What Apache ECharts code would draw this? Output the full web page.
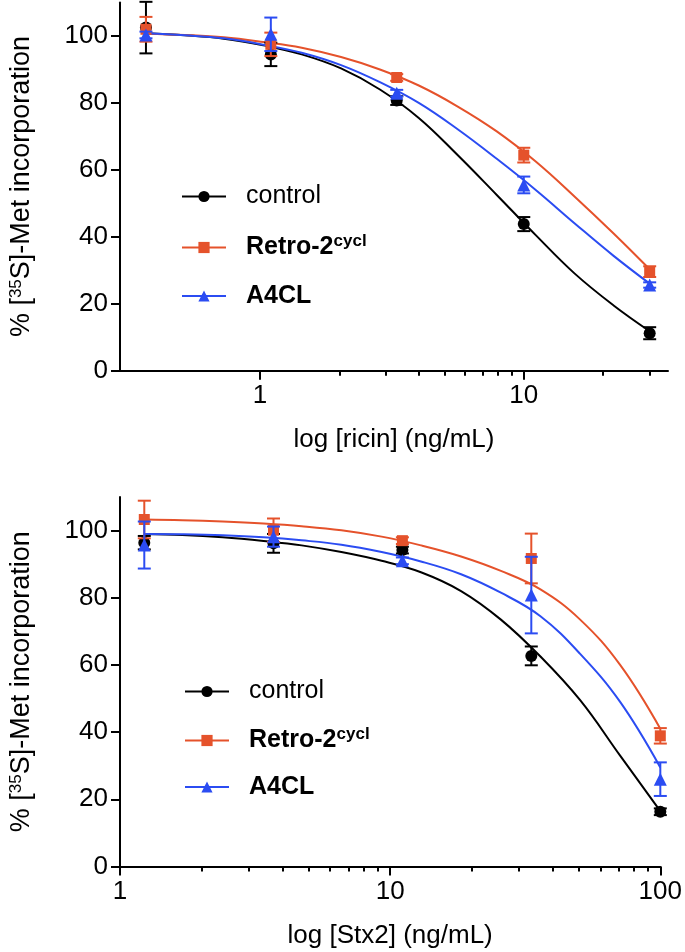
<!DOCTYPE html>
<html><head><meta charset="utf-8">
<script src="https://cdn.jsdelivr.net/npm/echarts@6/dist/echarts.min.js"></script>
<style>html,body{margin:0;padding:0;background:#fff}#c{width:685px;height:952px}</style>
</head><body><div id="c"></div>
<script>
// ---------- Top panel: ricin ----------
const ricinConc = [0.37, 1.1, 3.3, 10, 30];
const ricinControl = [102.5, 94.5, 80.7, 43.8, 11.2];
const ricinControlErr = [7.7, 3.5, 1.3, 2.1, 1.8];
const ricinRetro = [102, 97.5, 87.6, 64.4, 29.6];
const ricinRetroErr = [3.7, 3.5, 1.0, 2.2, 1.6];
const ricinA4CL = [100.3, 100.5, 82.9, 55.5, 25.6];
const ricinA4CLErr = [1.0, 5.0, 1.0, 2.5, 0.8];
// fitted curves
const ricinCurveConc = [0.37, 0.52, 0.73, 1.03, 1.44, 2.03, 2.85, 4.0, 5.6, 7.9, 11.1, 15.6, 21.9, 30];
const ricinControlCurve = [100.8, 100.2, 99.2, 97.2, 94.5, 90.3, 84, 75.5, 64.5, 52.5, 40.5, 29, 19.5, 11.8];
const ricinRetroCurve = [100.7, 100.3, 99.6, 98.2, 96.5, 93.7, 90, 85.2, 79, 71.5, 62.5, 52, 41, 30.3];
const ricinA4CLCurve = [100.8, 100.2, 99.3, 97.4, 95, 91.3, 86.2, 80, 72.2, 63.3, 54, 44, 34.3, 26];
const ricinExtent = [0.295, 35.2];
const ricinMajorTicks = [1, 10];
const ricinTickLabels = ['1', '10'];
const ricinMinorTicks = [2, 3, 4, 5, 6, 7, 8, 9, 20, 30];

// ---------- Bottom panel: Stx2 ----------
const stxConc = [1.23, 3.7, 11.1, 33.3, 100];
const stxControl = [96.4, 96.2, 94.2, 62.7, 16.3];
const stxControlErr = [2.0, 2.8, 1.0, 2.8, 1.0];
const stxRetro = [103.3, 100.1, 97.0, 91.7, 38.9];
const stxRetroErr = [5.6, 3.5, 1.0, 7.4, 2.3];
const stxA4CL = [95.7, 98.2, 91.0, 80.8, 26.0];
const stxA4CLErr = [7.0, 3.0, 1.0, 11.4, 5.0];
const stxCurveConc = [1.23, 1.7, 2.4, 3.4, 4.7, 6.6, 9.3, 13, 18.3, 25.7, 36, 50.5, 71, 100];
const stxControlCurve = [99, 98.7, 98, 96.9, 95.6, 93.6, 91, 87.6, 82, 73.5, 62.5, 49.5, 33, 16.5];
const stxRetroCurve = [103.3, 103.1, 102.7, 102.1, 101.3, 100.1, 98.2, 95.6, 92.3, 88, 82.5, 73.5, 60, 41];
const stxA4CLCurve = [99, 98.9, 98.6, 98, 97.1, 95.8, 93.6, 90.8, 87, 81.5, 74.5, 63.3, 49, 29.5];
const stxExtent = [1, 100];
const stxMajorTicks = [1, 10, 100];
const stxTickLabels = ['1', '10', '100'];
const stxMinorTicks = [2, 3, 4, 5, 6, 7, 8, 9, 20, 30, 40, 50, 60, 70, 80, 90];

const yTicks = [0, 20, 40, 60, 80, 100];
const seriesNames = ['control', 'Retro-2cycl', 'A4CL'];
const colors = ['#000000', '#E5522B', '#2B4CF2'];
const symbols = ['circle', 'rect', 'triangle'];
const symbolSizes = [12, 11, 13];

const F = '"Liberation Sans", Arial, Helvetica, sans-serif';
const L = v => Math.log10(v);

function errRender(color) {
  return function (params, api) {
    const x = api.value(0), lo = api.value(1), hi = api.value(2);
    const pHi = api.coord([x, hi]);
    const pLo = api.coord([x, lo]);
    const w = 6.5;
    const style = { stroke: color, lineWidth: 2, fill: null };
    return { type: 'group', children: [
      { type: 'line', shape: { x1: pHi[0], y1: pHi[1], x2: pLo[0], y2: pLo[1] }, style },
      { type: 'line', shape: { x1: pHi[0] - w, y1: pHi[1], x2: pHi[0] + w, y2: pHi[1] }, style },
      { type: 'line', shape: { x1: pLo[0] - w, y1: pLo[1], x2: pLo[0] + w, y2: pLo[1] }, style }
    ]};
  };
}

function panelSeries(idx, conc, means, errs, curveConc, curves) {
  const out = [];
  for (let s = 0; s < 3; s++) {
    out.push({
      name: seriesNames[s], type: 'line', xAxisIndex: idx * 2, yAxisIndex: idx,
      data: curveConc.map((c, i) => [L(c), curves[s][i]]),
      smooth: 0.4, showSymbol: false, symbol: symbols[s], symbolSize: symbolSizes[s],
      lineStyle: { color: colors[s], width: 2 }, itemStyle: { color: colors[s] },
      silent: true, z: 2
    });
  }
  for (let s = 0; s < 3; s++) {
    out.push({
      name: 'err-' + s, type: 'custom', xAxisIndex: idx * 2, yAxisIndex: idx,
      renderItem: errRender(colors[s]),
      data: conc.map((c, i) => [L(c), means[s][i] - errs[s][i], means[s][i] + errs[s][i]]),
      encode: { x: 0, y: [1, 2] }, clip: false, silent: true, z: 3 + s
    });
  }
  for (let s = 0; s < 3; s++) {
    out.push({
      name: 'pts-' + s, type: 'scatter', xAxisIndex: idx * 2, yAxisIndex: idx,
      data: conc.map((c, i) => [L(c), means[s][i]]),
      symbol: symbols[s], symbolSize: symbolSizes[s],
      itemStyle: { color: colors[s], opacity: 1 }, silent: true, z: 3 + s
    });
  }
  return out;
}

function xAxes(gridIndex, extent, major, labels, minor, title) {
  return [
    {
      type: 'value', gridIndex, position: 'bottom', min: L(extent[0]), max: L(extent[1]),
      axisLine: { show: true, onZero: false, lineStyle: { color: '#000', width: 2 } },
      axisTick: { show: true, customValues: major.map(L), length: 9, lineStyle: { color: '#000', width: 2 } },
      axisLabel: { show: true, customValues: major.map(L), margin: 12, color: '#000', fontSize: 26, fontFamily: F,
        formatter: v => { let k = 0, d = Infinity; major.forEach((m, i) => { const dd = Math.abs(L(m) - v); if (dd < d) { d = dd; k = i; } }); return labels[k]; } },
      splitLine: { show: false },
      name: title, nameLocation: 'middle', nameGap: 56,
      nameTextStyle: { color: '#000', fontSize: 26, fontFamily: F }
    },
    {
      type: 'value', gridIndex, position: 'bottom', min: L(extent[0]), max: L(extent[1]),
      axisLine: { show: false, onZero: false },
      axisTick: { show: true, customValues: minor.map(L), length: 5, lineStyle: { color: '#000', width: 2 } },
      axisLabel: { show: false }, splitLine: { show: false }
    }
  ];
}

function yAxis(gridIndex) {
  return {
    type: 'value', gridIndex, min: 0, max: 110,
    axisLine: { show: true, onZero: false, lineStyle: { color: '#000', width: 2 } },
    axisTick: { show: true, customValues: yTicks, length: 9, lineStyle: { color: '#000', width: 2 } },
    axisLabel: { show: true, customValues: yTicks, margin: 12, color: '#000', fontSize: 26, fontFamily: F },
    splitLine: { show: false },
    name: '% [{sup|35}S]-Met incorporation', nameLocation: 'middle', nameRotate: 90, nameGap: 85,
    nameTextStyle: { color: '#000', fontSize: 27, fontFamily: F,
      rich: { sup: { fontSize: 17, color: '#000', fontFamily: F, verticalAlign: 'top', lineHeight: 17 } } }
  };
}

const legendRich = {
  n: { fontSize: 25, fontFamily: F, color: '#000', lineHeight: 30 },
  b: { fontSize: 25, fontFamily: F, color: '#000', fontWeight: 'bold', lineHeight: 30 },
  sup: { fontSize: 17, fontFamily: F, color: '#000', fontWeight: 'bold', verticalAlign: 'top', lineHeight: 17 }
};
const legendFmt = name => name === 'control' ? '{n|control}' : (name === 'Retro-2cycl' ? '{b|Retro-2}{sup|cycl}' : '{b|' + name + '}');
function legend(left, top, gap) {
  return {
    data: seriesNames, orient: 'vertical', left, top, itemGap: gap, padding: 0,
    itemWidth: 44, itemHeight: 14, selectedMode: false, formatter: legendFmt,
    textStyle: { padding: [0, 0, 0, 15], rich: legendRich }
  };
}

const chart = echarts.init(document.getElementById('c'), null, { renderer: 'canvas' });
chart.setOption({
  animation: false,
  backgroundColor: '#fff',
  grid: [
    { left: 113, right: 17, top: 2.5, height: 368.2 },
    { left: 114, right: 23, top: 497, height: 369.5 }
  ],
  xAxis: [].concat(
    xAxes(0, ricinExtent, ricinMajorTicks, ricinTickLabels, ricinMinorTicks, 'log [ricin] (ng/mL)'),
    xAxes(1, stxExtent, stxMajorTicks, stxTickLabels, stxMinorTicks, 'log [Stx2] (ng/mL)')
  ),
  yAxis: [yAxis(0), yAxis(1)],
  legend: [legend(181, 184, 23.5), legend(184, 679, 21.5)],
  series: [].concat(
    panelSeries(0, ricinConc, [ricinControl, ricinRetro, ricinA4CL], [ricinControlErr, ricinRetroErr, ricinA4CLErr],
      ricinCurveConc, [ricinControlCurve, ricinRetroCurve, ricinA4CLCurve]),
    panelSeries(1, stxConc, [stxControl, stxRetro, stxA4CL], [stxControlErr, stxRetroErr, stxA4CLErr],
      stxCurveConc, [stxControlCurve, stxRetroCurve, stxA4CLCurve])
  )
});
</script></body></html>
